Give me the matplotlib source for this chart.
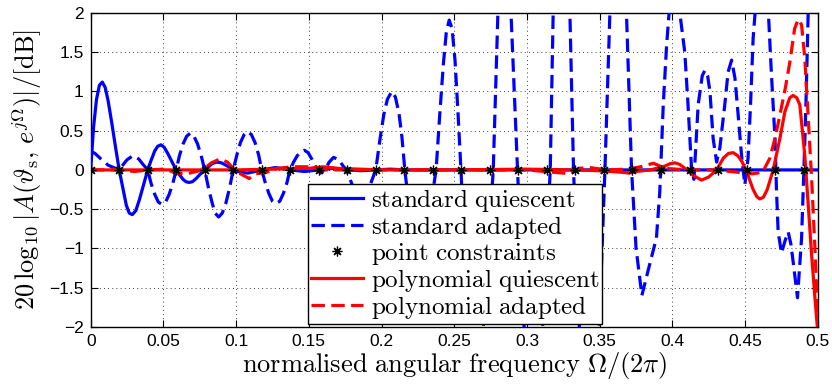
import matplotlib
matplotlib.use('Agg')
import matplotlib.pyplot as plt

plt.rcParams['mathtext.fontset'] = 'cm'
plt.rcParams['font.family'] = ['Liberation Sans', 'DejaVu Sans']

# standard quiescent (blue solid)
std_q_x = [0, 0.002, 0.004, 0.006, 0.008, 0.010, 0.012, 0.0145, 0.017, 0.0196,
           0.022, 0.0245, 0.0265, 0.0286, 0.031, 0.0335, 0.0365, 0.0392,
           0.0415, 0.044, 0.046, 0.0483, 0.0505, 0.053, 0.056, 0.0588,
           0.061, 0.0635, 0.0655, 0.0676, 0.07, 0.0725, 0.0755, 0.0784,
           0.081, 0.0835, 0.0866, 0.09, 0.094, 0.098, 0.103, 0.108, 0.113, 0.118,
           0.127, 0.137, 0.147, 0.157, 0.167, 0.176, 0.186, 0.196, 0.206, 0.216,
           0.25, 0.3, 0.35, 0.4, 0.45, 0.5]
std_q_y = [0, 0.55, 0.9, 1.08, 1.12, 1.05, 0.88, 0.6, 0.3, 0,
           -0.22, -0.45, -0.55, -0.57, -0.52, -0.38, -0.18, 0,
           0.12, 0.24, 0.3, 0.32, 0.29, 0.21, 0.1, 0,
           -0.06, -0.12, -0.15, -0.16, -0.15, -0.11, -0.05, 0,
           0.04, 0.08, 0.10, 0.09, 0.05, 0, -0.03, -0.04, -0.02, 0,
           0.03, 0, -0.02, 0, 0.02, 0, -0.01, 0, 0.01, 0,
           0, 0, 0, 0, 0, 0]

# standard adapted (blue dashed)
std_a_x = [0, 0.003, 0.007, 0.012, 0.0196, 0.022, 0.025, 0.029, 0.033, 0.036, 0.0392,
           0.0415, 0.044, 0.0465, 0.049, 0.0515, 0.054, 0.0565, 0.0588,
           0.061, 0.0635, 0.066, 0.0686, 0.071, 0.0735, 0.076, 0.0784,
           0.081, 0.0835, 0.0855, 0.088, 0.0905, 0.093, 0.0955, 0.098,
           0.1005, 0.103, 0.1055, 0.108, 0.1105, 0.113, 0.1155, 0.1176,
           0.12, 0.1225, 0.125, 0.127, 0.13, 0.1325, 0.135, 0.137,
           0.1395, 0.142, 0.1445, 0.147, 0.1495, 0.152, 0.155, 0.158,
           0.161, 0.164, 0.167, 0.1705, 0.174, 0.176, 0.181, 0.186, 0.191, 0.196,
           0.199, 0.2015, 0.204, 0.207, 0.2095, 0.212, 0.214, 0.216,
           0.221, 0.226, 0.231, 0.2375, 0.240, 0.2425, 0.2445, 0.2465, 0.2485,
           0.2505, 0.2525, 0.2546, 0.2596, 0.265, 0.270, 0.2768, 0.28, 0.2845,
           0.289, 0.2935, 0.298, 0.304, 0.3107, 0.316, 0.318, 0.324, 0.3295,
           0.332, 0.336, 0.343, 0.3497, 0.3536, 0.357, 0.3627, 0.3684, 0.3719,
           0.375, 0.379, 0.3855, 0.389, 0.3913, 0.3937, 0.396, 0.3977, 0.401,
           0.4051, 0.4085, 0.4106, 0.4132, 0.4148, 0.4177, 0.4205, 0.4223, 0.4242,
           0.4258, 0.428, 0.4304, 0.4326, 0.436, 0.4383, 0.4407, 0.443, 0.4452,
           0.4475, 0.4498, 0.452, 0.4537, 0.4555, 0.461, 0.466, 0.468, 0.4705,
           0.4716, 0.4727, 0.475, 0.4775, 0.4796, 0.4815, 0.483, 0.486, 0.4888,
           0.4904, 0.4918, 0.4933, 0.497, 0.5]
std_a_y = [0.24, 0.21, 0.14, 0.06, 0, 0.06, 0.13, 0.18, 0.14, 0.07, 0,
           -0.17, -0.31, -0.41, -0.44, -0.41, -0.31, -0.17, 0,
           0.18, 0.33, 0.43, 0.47, 0.43, 0.33, 0.18, 0,
           -0.23, -0.42, -0.55, -0.6, -0.55, -0.42, -0.23, 0,
           0.19, 0.35, 0.45, 0.49, 0.45, 0.35, 0.19, 0,
           -0.16, -0.3, -0.4, -0.43, -0.4, -0.3, -0.16, 0,
           0.1, 0.18, 0.23, 0.25, 0.22, 0.14, 0.03, -0.04,
           0, 0.1, 0.16, 0.13, 0.04, 0, -0.25, -0.36, -0.25, 0,
           0.4, 0.7, 0.9, 1.0, 0.93, 0.72, 0.42, 0,
           -0.8, -1.1, -0.8, 0, 0.7, 1.35, 1.75, 1.91, 1.8,
           1.4, 0.75, 0, -2.0, -3.0, -2.0, 0, 2.0, 3.2,
           2.0, 0, -2.0, -3.4, -2.0, 0, 2.0, 3.8, 2.0,
           0, -2.0, -3.5, -2.0, 0, 2.0, 3.6, 2.0, 0,
           -1.0, -1.6, -1.12, -0.87, -0.28, 0.83, 1.59, 2.0, 2.6,
           2.0, 1.5, 0.87, 0, -0.12, 0.83, 1.2, 1.27, 1.2,
           1.0, 0.4, 0.1, 0.28, 0.83, 1.25, 1.40, 1.17, 0.7,
           0.19, -0.19, 0.15, 0.83, 1.68, 3.0, 2.0, 1.25, 0.41,
           -0.28, -0.79, -1.06, -0.9, -0.79, -0.95, -1.17, -1.63, -0.87,
           0, 0.83, 1.97, 3.0, 3.5]

# point constraints
pts_x = [k / 51 for k in range(26)]
pts_y = [0] * 26

# polynomial quiescent (red solid)
pol_q_x = [0, 0.05, 0.1, 0.15, 0.16, 0.17, 0.2, 0.25, 0.3, 0.33, 0.35, 0.365, 0.37,
           0.375, 0.385, 0.395, 0.3985, 0.4017, 0.4051, 0.41, 0.4143, 0.42, 0.425,
           0.4304, 0.435, 0.4385, 0.4418, 0.445, 0.448, 0.451, 0.4555, 0.458, 0.460,
           0.4625, 0.4652, 0.4693, 0.474, 0.4773, 0.4807, 0.483, 0.4855, 0.4876,
           0.491, 0.4934, 0.4957, 0.498, 0.4995, 0.5]
pol_q_y = [0, 0, 0, 0.02, 0.04, 0.02, 0, 0, 0.01, 0, -0.01, -0.03, -0.04,
           -0.02, 0, 0.05, 0.08, 0.09, 0.07, 0, -0.07, -0.13, -0.09,
           0, 0.15, 0.21, 0.22, 0.18, 0.1, -0.02, -0.25, -0.34, -0.37,
           -0.35, -0.25, 0, 0.41, 0.74, 0.92, 0.95, 0.92, 0.83,
           0.19, -0.45, -1.08, -1.63, -1.97, -2.1]

# polynomial adapted (red dashed)
pol_a_x = [0, 0.02, 0.03, 0.04, 0.05, 0.06, 0.066, 0.077, 0.083, 0.089, 0.094, 0.1,
           0.109, 0.113, 0.121, 0.128, 0.139, 0.149, 0.16, 0.2, 0.25, 0.3, 0.318,
           0.325, 0.33, 0.336, 0.343, 0.355, 0.37, 0.378, 0.387, 0.395, 0.41, 0.43,
           0.455, 0.462, 0.467, 0.4705, 0.4739, 0.4776, 0.4808, 0.484, 0.4865, 0.4888,
           0.491, 0.4933, 0.4957, 0.498, 0.5]
pol_a_y = [0, 0, -0.02, 0, 0.01, -0.04, -0.05, 0, 0.09, 0.14, 0.1, -0.02,
           -0.11, -0.05, -0.03, 0.02, 0.04, 0.04, 0, 0, 0, 0, -0.03,
           -0.04, -0.05, 0.02, 0.03, 0, 0.01, 0.04, 0.085, 0.02, 0, 0,
           -0.05, -0.03, 0.15, 0.4, 0.70, 1.04, 1.38, 1.80, 1.92, 1.85,
           1.43, 0.7, -0.1, -1.0, -1.9]

x_ticks = [0, 0.05, 0.1, 0.15, 0.2, 0.25, 0.3, 0.35, 0.4, 0.45, 0.5]
x_tick_labels = ['0', '0.05', '0.1', '0.15', '0.2', '0.25', '0.3', '0.35', '0.4', '0.45', '0.5']
y_ticks = [-2, -1.5, -1, -0.5, 0, 0.5, 1, 1.5, 2]
y_tick_labels = ['\u22122', '\u22121.5', '\u22121', '\u22120.5', '0', '0.5', '1', '1.5', '2']

labels = [r'$\mathrm{standard\ quiescent}$', r'$\mathrm{standard\ adapted}$',
          r'$\mathrm{point\ constraints}$', r'$\mathrm{polynomial\ quiescent}$',
          r'$\mathrm{polynomial\ adapted}$']

fig = plt.figure(figsize=(8.32, 3.84), dpi=100)
ax = fig.add_axes([0.109, 0.149, 0.874, 0.817])

lw = 2.3
dash = (0, (4.2, 2.0))
ax.plot(std_q_x, std_q_y, color='#0000ff', lw=lw, label=labels[0], zorder=3)
ax.plot(std_a_x, std_a_y, color='#0000ff', lw=lw, ls=dash, label=labels[1], zorder=3)
ax.plot(pts_x, pts_y, ls='none', marker=(8, 2, 0), ms=7, mew=0.9, color='black',
        label=labels[2], zorder=6)
ax.plot(pol_q_x, pol_q_y, color='#ff0000', lw=lw, label=labels[3], zorder=4)
ax.plot(pol_a_x, pol_a_y, color='#ff0000', lw=lw, ls=dash, label=labels[4], zorder=4)

ax.set_xlim(0, 0.5)
ax.set_ylim(-2, 2)
ax.set_xticks(x_ticks)
ax.set_xticklabels(x_tick_labels)
ax.set_yticks(y_ticks)
ax.set_yticklabels(y_tick_labels)
ax.tick_params(direction='in', length=5, width=0.8, top=True, right=True,
               labelsize=12.5, pad=5)
ax.grid(True, ls=(0, (1, 4)), color='black', lw=0.6)
for s in ax.spines.values():
    s.set_linewidth(1.0)

ax.set_xlabel(r'$\mathrm{normalised\ angular\ frequency}\ \Omega/(2\pi)$', fontsize=19,
              labelpad=1)
ax.set_ylabel(r'$20\,\log_{10}|A(\vartheta_{\mathrm{s}},\,e^{j\Omega})|/[\mathrm{dB}]$',
              fontsize=19, labelpad=4)

leg = ax.legend(loc='center', bbox_to_anchor=(0.501, 0.233), fontsize=18,
                fancybox=False, framealpha=1, edgecolor='black', labelspacing=0.0,
                handlelength=2.1, handletextpad=0.3, borderpad=0.12, borderaxespad=0)
leg.get_frame().set_linewidth(1.0)
leg.set_zorder(10)

fig.savefig('out.png', dpi=100)
